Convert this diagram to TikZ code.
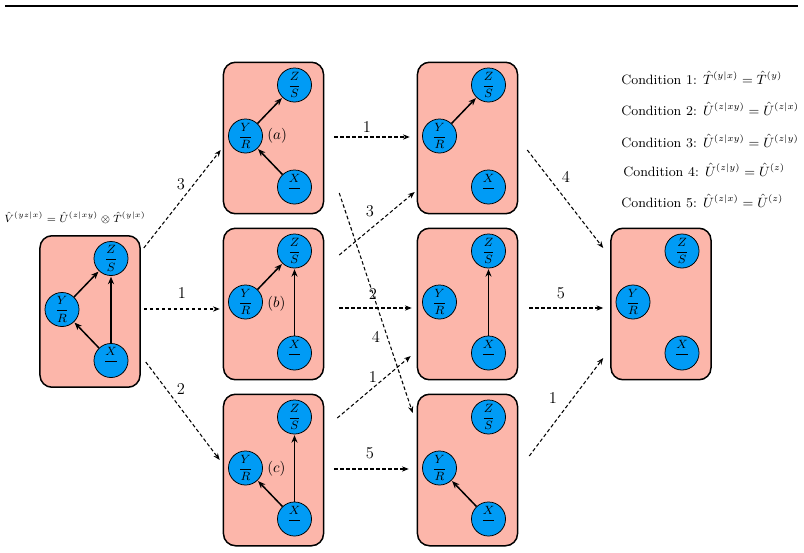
\documentclass[tikz,border=0pt]{standalone}
\usepackage{amsmath}
\usetikzlibrary{arrows.meta,calc}
\definecolor{boxfill}{RGB}{252,182,170}
\definecolor{varblue}{RGB}{0,155,245}
\tikzset{
  bx/.style={draw, line width=1pt, rounded corners=8pt, fill=boxfill,
    minimum width=66.7pt, minimum height=101pt, inner sep=0pt},
  var/.style={circle, draw, line width=0.5pt, fill=varblue, minimum size=22.7pt, inner sep=0pt, font=\footnotesize},
  dep/.style={-{Stealth[length=5pt,width=4pt]}, line width=1pt, shorten >=0.5pt},
  trans/.style={dash pattern=on 2.4pt off 1.6pt, -{Stealth[length=4.5pt,width=3.5pt]}, line width=0.7pt},
  lbl/.style={font=\fontsize{11}{13}\selectfont, inner sep=0pt},
  cond/.style={font=\small, anchor=west, inner sep=0pt},
}
\newcommand{\mkbox}[3]{% name, x, y
  \node[bx] (#1) at (#2,#3) {};
  \node[var] (#1Z) at ($(#1)+(21,-53)$) {$\dfrac{Z}{S}$};
  \node[var] (#1Y) at ($(#1)+(-28,-2)$) {$\dfrac{Y}{R}$};
  \node[var] (#1X) at ($(#1)+(21,49)$) {$\dfrac{X}{}$};
}
\begin{document}
\begin{tikzpicture}[x=0.6667pt,y=-0.6667pt]
\useasboundingbox (0,0) rectangle (804,553);
\draw[line width=0.8pt] (5,6) -- (798,6);

\mkbox{L}{90}{311.5}
\mkbox{a}{273.5}{138}
\mkbox{b}{273.5}{304}
\mkbox{c}{273.5}{470}
\mkbox{t}{467.5}{138}
\mkbox{m}{467.5}{304}
\mkbox{d}{467.5}{470}
\mkbox{R}{661}{304}

% dependencies
\draw[dep] (LY) -- (LZ);
\draw[dep] (LX) -- (LY);
\draw[dep] (LX) -- (LZ);
\draw[dep] (aY) -- (aZ);
\draw[dep] (aX) -- (aY);
\draw[dep] (bY) -- (bZ);
\draw[dep] (bX) -- (bZ);
\draw[dep] (cX) -- (cZ);
\draw[dep] (cX) -- (cY);
\draw[dep] (tY) -- (tZ);
\draw[dep] (mX) -- (mZ);
\draw[dep] (dX) -- (dY);

% sub-labels
\node[anchor=west, inner sep=0pt] (la) at (267,136) {$(a)$};
\node[anchor=west, inner sep=0pt] (lb) at (267,304) {$(b)$};
\node[anchor=west, inner sep=0pt] (lc) at (267,469) {$(c)$};

% transitions
\draw[trans] ([shift={(3,-63.5)}]L.east) -- ([shift={(-2,12)}]a.west);
\draw[trans] ([shift={(3,-2.5)}]L.east) -- ([shift={(-3,5)}]b.west);
\draw[trans] ([shift={(5,50.5)}]L.east) -- ([shift={(-3,-10)}]c.west);
\draw[trans] ([shift={(10,-1)}]a.east) -- ([shift={(-7,-1)}]t.west);
\draw[trans] ([shift={(15,-49)}]b.east) -- ([shift={(-2,54)}]t.west);
\draw[trans] ([shift={(15,4)}]b.east) -- ([shift={(-5,4)}]m.west);
\draw[trans] ([shift={(15,55)}]a.east) -- ([shift={(-4,-57)}]d.west);
\draw[trans] ([shift={(13,-52)}]c.east) -- ([shift={(-6,52)}]m.west);
\draw[trans] ([shift={(10,-1)}]c.east) -- ([shift={(-8,-1)}]d.west);
\draw[trans] ([shift={(9,12)}]t.east) -- ([shift={(-7,-56)}]R.west);
\draw[trans] ([shift={(11,4)}]m.east) -- ([shift={(-7,4)}]R.west);
\draw[trans] ([shift={(11,-14)}]d.east) -- ([shift={(-7,54)}]R.west);

\node[lbl] (n1) at (181,184) {3};
\node[lbl] (n2) at (182,293) {1};
\node[lbl] (n3) at (181,389) {2};
\node[lbl] (n4) at (367,127) {1};
\node[lbl] (n5) at (370,211) {3};
\node[lbl] (n6) at (373,294) {2};
\node[lbl] (n7) at (376,337) {4};
\node[lbl] (n8) at (373,377) {1};
\node[lbl] (n9) at (370,453) {5};
\node[lbl] (n10) at (566,177) {4};
\node[lbl] (n11) at (561,293) {5};
\node[lbl] (n12) at (553,398) {1};

\node[font=\fontsize{7}{8}\selectfont, inner sep=0pt] (vlab) at (75,218) {$\hat{V}^{(yz|x)}=\hat{U}^{(z|xy)}\otimes\hat{T}^{(y|x)}$};

\node[cond] (c1) at (621,78) {Condition 1: $\hat{T}^{(y|x)}=\hat{T}^{(y)}$};
\node[cond] (c2) at (621,109) {Condition 2: $\hat{U}^{(z|xy)}=\hat{U}^{(z|x)}$};
\node[cond] (c3) at (621,141) {Condition 3: $\hat{U}^{(z|xy)}=\hat{U}^{(z|y)}$};
\node[cond] (c4) at (623,170) {Condition 4: $\hat{U}^{(z|y)}=\hat{U}^{(z)}$};
\node[cond] (c5) at (621,201) {Condition 5: $\hat{U}^{(z|x)}=\hat{U}^{(z)}$};
\end{tikzpicture}
\end{document}
